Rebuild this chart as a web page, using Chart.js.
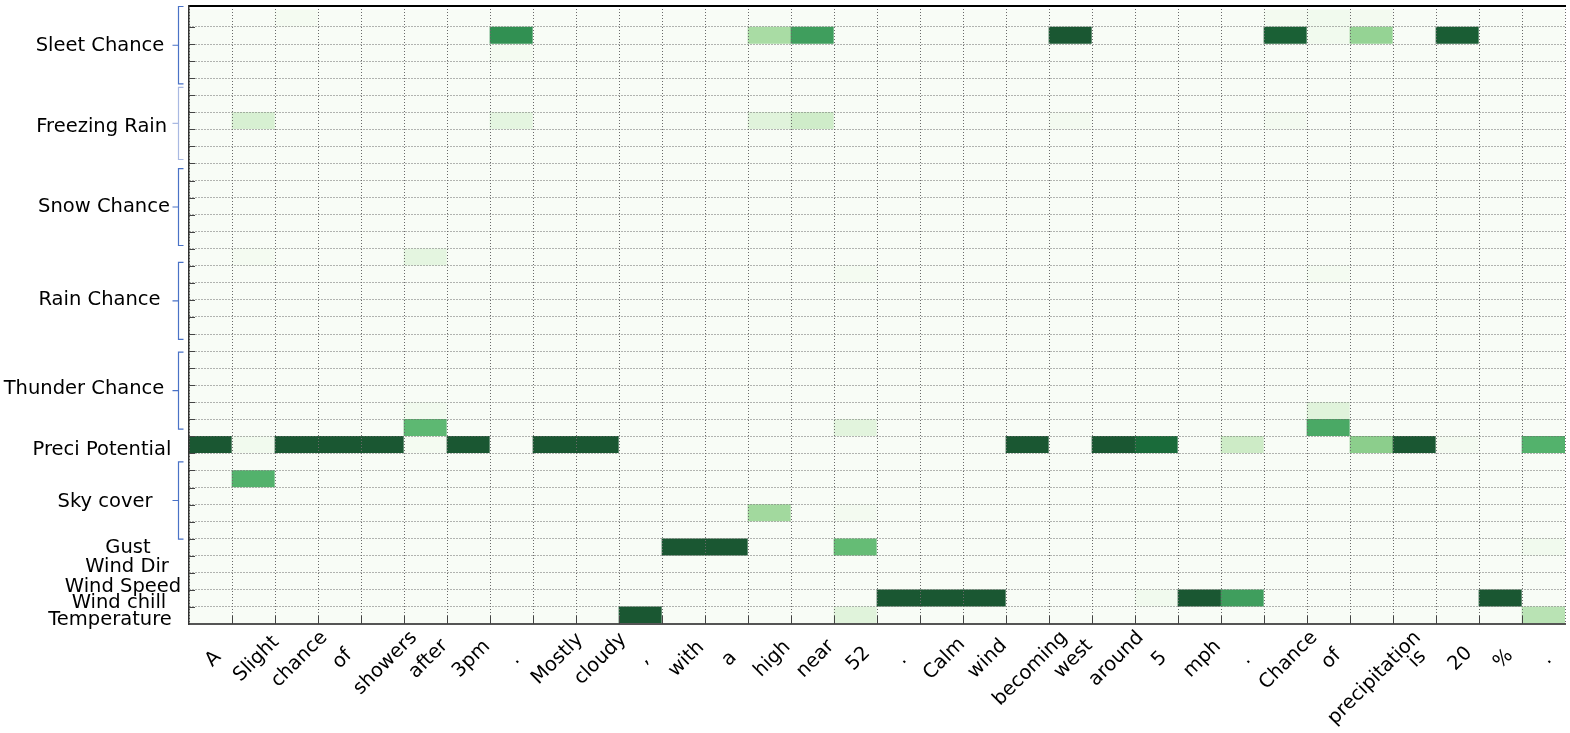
<!DOCTYPE html>
<html>
<head>
<meta charset="utf-8">
<script src="https://cdn.jsdelivr.net/npm/chart.js@4.4.1/dist/chart.umd.min.js"></script>
<style>
  html, body { margin: 0; padding: 0; background: #fff; }
  canvas { display: block; }
</style>
</head>
<body>
<canvas id="heat" width="1570" height="733"></canvas>
<script>
'use strict';

const tokens = ['A', 'Slight', 'chance', 'of', 'showers', 'after', '3pm', '.', 'Mostly', 'cloudy', ',', 'with', 'a', 'high',
  'near', '52', '.', 'Calm', 'wind', 'becoming', 'west', 'around', '5', 'mph', '.', 'Chance', 'of', 'precipitation', 'is', '20', '%', '.'];

// features from the bottom of the chart upwards, and how many heat rows each owns
const features = ['Temperature', 'Wind chill', 'Wind Speed', 'Wind Dir', 'Gust', 'Sky cover', 'Preci Potential',
  'Thunder Chance', 'Rain Chance', 'Snow Chance', 'Freezing Rain', 'Sleet Chance'];
const featureRows = [1, 1, 1, 1, 1, 5, 1, 5, 5, 5, 5, 5];

// non-blank cells: [sub-row from bottom, token index, value 0..1]; every other cell is 0
const temperature = [[0, 10, 1], [0, 15, 0.16], [0, 31, 0.32]];
const windChill = [[0, 16, 1], [0, 17, 1], [0, 18, 1], [0, 22, 0.05], [0, 23, 1], [0, 24, 0.72], [0, 30, 1]];
const windSpeed = [];
const windDir = [];
const gust = [[0, 11, 1], [0, 12, 1], [0, 15, 0.58], [0, 31, 0.05]];
const skyCover = [[3, 1, 0.63], [1, 13, 0.4], [1, 15, 0.04]];
const preciPotential = [[0, 0, 1], [0, 1, 0.05], [0, 2, 1], [0, 3, 1], [0, 4, 1], [0, 5, 0.03], [0, 6, 1], [0, 8, 1],
  [0, 9, 1], [0, 19, 1], [0, 21, 1], [0, 22, 0.93], [0, 24, 0.25], [0, 27, 0.47], [0, 28, 1], [0, 29, 0.04], [0, 31, 0.63]];
const thunderChance = [[0, 5, 0.6], [1, 5, 0.05], [0, 15, 0.15], [0, 26, 0.67], [1, 26, 0.16]];
const rainChance = [[4, 15, 0.03], [4, 26, 0.03]];
const snowChance = [[0, 1, 0.03], [0, 5, 0.14]];
const freezingRain = [[3, 1, 0.2], [3, 7, 0.14], [3, 13, 0.16], [3, 14, 0.24], [3, 20, 0.04], [3, 25, 0.04]];
const sleetChance = [[4, 2, 0.03], [4, 25, 0.04], [4, 26, 0.05], [4, 27, 0.04], [3, 7, 0.78], [3, 13, 0.38], [3, 14, 0.72],
  [3, 20, 1], [3, 25, 0.97], [3, 26, 0.05], [3, 27, 0.44], [3, 29, 0.98], [2, 7, 0.03]];

const featureCells = [temperature, windChill, windSpeed, windDir, gust, skyCover, preciPotential,
  thunderChance, rainChance, snowChance, freezingRain, sleetChance];

// label layout (y in row units, centre x in px) and the brackets beside grouped rows
const labelRowPos = [0.23, 1.23, 2.17, 3.34, 4.45, 7.14, 10.19, 13.76, 18.97, 24.43, 29.16, 33.9];
const labelCenterX = [110, 119, 123, 127, 128, 105, 102, 84, 99.5, 104, 101.7, 100];
const braces = [
  { from: 4.98, to: 9.5, color: '#4a72c6' },
  { from: 11.42, to: 15.94, color: '#4a72c6' },
  { from: 16.69, to: 21.2, color: '#4a72c6' },
  { from: 22.19, to: 26.7, color: '#4a72c6' },
  { from: 27.23, to: 31.46, color: '#a9b9e2' },
  { from: 31.66, to: 36.2, color: '#4a72c6' }
];

const FONT = '19.5px "DejaVu Sans", Verdana, sans-serif';
const GREENS = ['#f7fcf5', '#e5f5e0', '#c7e9c0', '#a1d99b', '#74c476', '#41ab5d', '#238b45', '#006d2c', '#00441b'];

function greens(v) {
  const t = Math.max(0, Math.min(1, v)) * (GREENS.length - 1);
  const i = Math.min(Math.floor(t), GREENS.length - 2);
  const f = t - i;
  const a = GREENS[i], b = GREENS[i + 1];
  const ch = (hex, k) => parseInt(hex.substr(1 + 2 * k, 2), 16);
  // alpha 0.9 over white
  const rgb = [0, 1, 2].map(k => {
    const c = ch(a, k) + (ch(b, k) - ch(a, k)) * f;
    return Math.round(255 + 0.9 * (c - 255));
  });
  return `rgb(${rgb.join(',')})`;
}

// full matrix, row 0 at the bottom
const rowCount = featureRows.reduce((s, n) => s + n, 0);
const matrix = Array.from({ length: rowCount }, () => tokens.map(() => 0));
let start = 0;
featureCells.forEach((cells, f) => {
  cells.forEach(([sub, col, v]) => { matrix[start + sub][col] = v; });
  start += featureRows[f];
});

const datasets = matrix.map((vals, r) => ({
  data: vals.map((v, i) => ({ x: i, y: [r, r + 1] })),
  backgroundColor: vals.map(greens),
  borderWidth: 0
}));

const annotate = {
  id: 'annotate',
  beforeDraw(chart) {
    const { ctx } = chart;
    ctx.save();
    ctx.fillStyle = '#fff';
    ctx.fillRect(0, 0, chart.width, chart.height);
    ctx.restore();
  },
  afterDraw(chart) {
    const { ctx, chartArea: area, scales: { x, y } } = chart;
    ctx.save();

    // inner tick marks
    ctx.strokeStyle = '#444';
    ctx.lineWidth = 1;
    ctx.beginPath();
    for (let i = 1; i < tokens.length; i++) {
      const px = Math.round(x.getPixelForValue(i - 0.5)) + 0.5;
      ctx.moveTo(px, area.bottom);
      ctx.lineTo(px, area.bottom - 8);
    }
    for (let r = 1; r < rowCount; r++) {
      const py = Math.round(y.getPixelForValue(r)) + 0.5;
      ctx.moveTo(area.left, py);
      ctx.lineTo(area.left + 6, py);
    }
    ctx.stroke();

    ctx.font = FONT;
    ctx.fillStyle = '#000';
    ctx.textAlign = 'center';
    ctx.textBaseline = 'middle';

    // rotated token labels
    tokens.forEach((t, i) => {
      const w = ctx.measureText(t).width;
      const box = (w + 19) * Math.SQRT1_2;
      const cy = Math.max(area.bottom + 35, area.bottom + 4 + box / 2);
      ctx.save();
      ctx.translate(x.getPixelForValue(i) + 3, cy);
      ctx.rotate(-Math.PI / 4);
      ctx.fillText(t, 0, 0);
      ctx.restore();
    });

    // feature labels
    features.forEach((name, f) => {
      ctx.fillText(name, labelCenterX[f], y.getPixelForValue(labelRowPos[f]));
    });

    // brackets
    ctx.lineWidth = 1.2;
    braces.forEach(b => {
      const top = y.getPixelForValue(b.to), bot = y.getPixelForValue(b.from);
      const mid = (top + bot) / 2;
      const bx = area.left - 10.5;
      ctx.strokeStyle = b.color;
      ctx.beginPath();
      ctx.moveTo(bx + 5, top); ctx.lineTo(bx, top); ctx.lineTo(bx, bot); ctx.lineTo(bx + 5, bot);
      ctx.moveTo(bx, mid); ctx.lineTo(bx - 6, mid);
      ctx.stroke();
    });
    ctx.restore();
  }
};

new Chart(document.getElementById('heat').getContext('2d'), {
  type: 'bar',
  data: { labels: tokens, datasets },
  options: {
    responsive: false,
    animation: false,
    layout: { padding: { left: 189, right: 5, top: 6, bottom: 109 } },
    datasets: { bar: { grouped: false, barPercentage: 1, categoryPercentage: 1 } },
    plugins: { legend: { display: false }, tooltip: { enabled: false } },
    scales: {
      x: {
        offset: true,
        grid: { z: 1, offset: true, color: '#6a6a6a', lineWidth: 1, drawTicks: false },
        border: { z: 2, color: '#555', width: 2, dash: [1, 2] },
        ticks: { display: false }
      },
      xTop: {
        position: 'top',
        grid: { display: false, drawTicks: false },
        border: { z: 2, color: '#000', width: 2 },
        ticks: { display: false }
      },
      y: {
        min: 0,
        max: 36.23,
        ticks: { stepSize: 1, display: false },
        grid: {
          z: 1,
          drawTicks: false,
          lineWidth: 1,
          color: c => (c.tick && c.tick.value > 0 && c.tick.value < 35.5 ? '#6a6a6a' : 'rgba(0,0,0,0)')
        },
        border: { z: 2, color: '#333', width: 1.5, dash: [1, 2] }
      }
    }
  },
  plugins: [annotate]
});
</script>
</body>
</html>
